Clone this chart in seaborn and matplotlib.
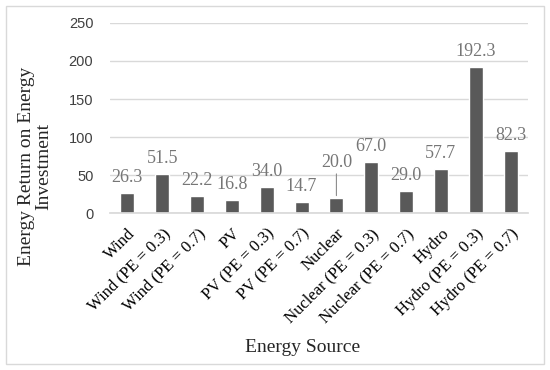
"""Bar chart: energy return on energy investment by energy source."""
import matplotlib

matplotlib.use("Agg")
import matplotlib.pyplot as plt
import pandas as pd
import seaborn as sns
from matplotlib.patches import Rectangle

SOURCES = [
    "Wind", "Wind (PE = 0.3)", "Wind (PE = 0.7)",
    "PV", "PV (PE = 0.3)", "PV (PE = 0.7)",
    "Nuclear", "Nuclear (PE = 0.3)", "Nuclear (PE = 0.7)",
    "Hydro", "Hydro (PE = 0.3)", "Hydro (PE = 0.7)",
]
EROI = [26.3, 51.5, 22.2, 16.8, 34.0, 14.7, 20.0, 67.0, 29.0, 57.7, 192.3, 82.3]
Y_TICKS = [0, 50, 100, 150, 200, 250]

BAR_COLOR = "#595959"
LABEL_COLOR = "#767676"
GRID_COLOR = "#d9d9d9"
SERIF = ["Liberation Serif", "DejaVu Serif"]
SANS = ["Liberation Sans", "DejaVu Sans"]

sns.set_theme(style="white")
plt.rcParams["font.family"] = SERIF

df = pd.DataFrame({"source": SOURCES, "eroi": EROI})

fig = plt.figure(figsize=(5.5, 3.7), dpi=100)
ax = fig.add_axes([0.2, 0.424, 0.76, 0.514])

sns.barplot(data=df, x="source", y="eroi", color=BAR_COLOR, width=0.4,
            saturation=1, ax=ax)

ax.set_ylim(0, 250)
ax.set_yticks(Y_TICKS)
ax.set_yticklabels([str(t) for t in Y_TICKS], family=SANS, fontsize=10.5,
                   color="#404040")
ax.set_xlim(-0.5, len(SOURCES) - 0.5)
ax.tick_params(axis="y", length=0, pad=12)
ax.tick_params(axis="x", length=0, pad=9)
plt.setp(ax.get_xticklabels(), rotation=45, ha="right", rotation_mode="anchor",
         fontsize=12, color="black")
ax.yaxis.grid(True, color=GRID_COLOR, linewidth=1)
ax.set_axisbelow(True)
for side in ["top", "right", "left"]:
    ax.spines[side].set_visible(False)
ax.spines["bottom"].set_color(GRID_COLOR)

# value labels; Nuclear's label is lifted with a leader line, as in the source
for i, val in enumerate(EROI):
    if SOURCES[i] == "Nuclear":
        ax.annotate(f"{val:.1f}", xy=(i, val + 3), xytext=(0, 18),
                    textcoords="offset points", ha="center", va="bottom",
                    fontsize=13, color=LABEL_COLOR,
                    arrowprops=dict(arrowstyle="-", color="#8c8c8c", lw=0.8,
                                    shrinkA=0, shrinkB=0))
    else:
        ax.annotate(f"{val:.1f}", xy=(i, val), xytext=(0, 5),
                    textcoords="offset points", ha="center", va="bottom",
                    fontsize=13, color=LABEL_COLOR)

# axis titles sit where Excel put them: centred on the whole plot block
ax.set_xlabel("")
ax.set_ylabel("")
fig.text(0.064, 0.55, "Energy Return on Energy\nInvestment", rotation=90,
         ha="center", va="center", multialignment="center", linespacing=1.0,
         fontsize=14)
fig.text(0.55, 0.06, "Energy Source", ha="center", va="center", fontsize=14)

fig.patches.append(Rectangle((0.011, 0.016), 0.978, 0.968, transform=fig.transFigure,
                             fill=False, edgecolor=GRID_COLOR, linewidth=1))

fig.savefig("out.png", dpi=100)
plt.close(fig)
